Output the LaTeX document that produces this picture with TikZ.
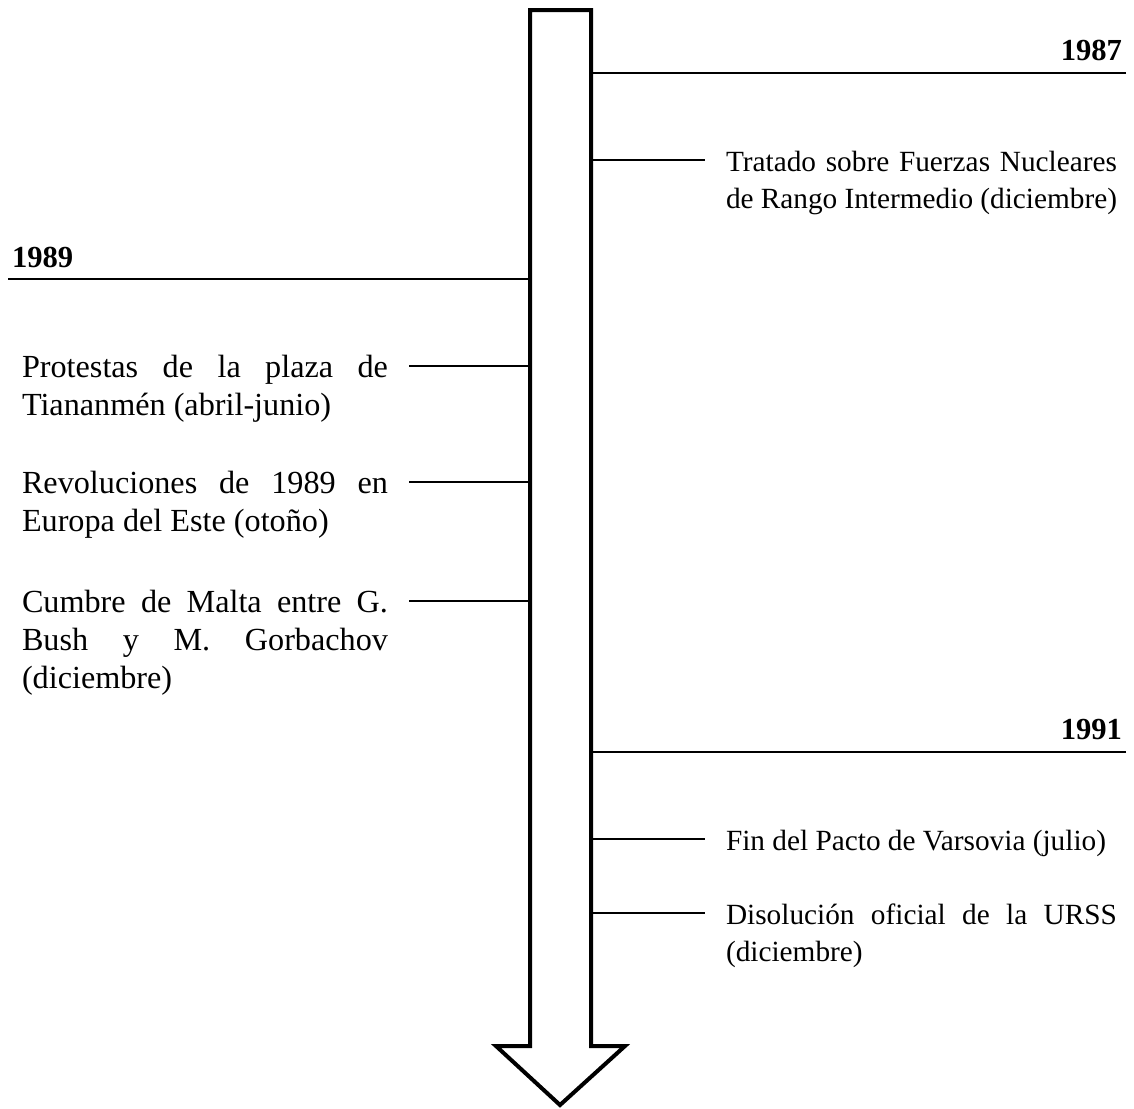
\documentclass[tikz,border=0pt]{standalone}
\usepackage{fontspec}
\setmainfont{Liberation Serif}
\begin{document}
\begin{tikzpicture}[x=0.5pt,y=-0.5pt,
  every node/.style={inner sep=0pt, outer sep=0pt},
  evright/.style={text width=195.5pt, align=justify, anchor=base west,
    font=\fontsize{14.65}{18.5}\selectfont},
  evleft/.style={text width=183pt, align=justify, anchor=base west,
    font=\fontsize{16.1}{19}\selectfont},
  yearlbl/.style={font=\fontsize{15.3}{19}\selectfont\bfseries},
  tick/.style={line width=1pt},
  bigarrow/.style={line width=2pt, line join=miter, fill=white}]
\useasboundingbox (0,0) rectangle (1134,1108);

% the time axis: a tall hollow arrow pointing down
\draw[bigarrow] (530,10) -- (591,10) -- (591,1046) -- (625,1046) -- (560,1105)
  -- (496,1046) -- (530,1046) -- cycle;

\coordinate (L) at (530,0);
\coordinate (R) at (591,0);

% year markers
\node[yearlbl, anchor=base east] (y87) at (1122,60) {1987};
\coordinate (y87e) at (1126,73);
\draw[tick] (y87e) -- (R |- y87e);

\node[yearlbl, anchor=base west] (y89) at (12,267) {1989};
\coordinate (y89s) at (8,279);
\draw[tick] (y89s) -- (L |- y89s);

\node[yearlbl, anchor=base east] (y91) at (1122,739) {1991};
\coordinate (y91e) at (1126,752);
\draw[tick] (y91e) -- (R |- y91e);

% events to the right of the axis
\node[evright] (inf) at (726,171) {Tratado sobre Fuerzas Nucleares\linebreak de Rango Intermedio (diciembre)};
\coordinate (infc) at (705,160);
\draw[tick] (R |- infc) -- (infc);

\node[evright] (pacto) at (726,850) {Fin del Pacto de Varsovia (julio)};
\coordinate (pactoc) at (705,839);
\draw[tick] (R |- pactoc) -- (pactoc);

\node[evright] (urss) at (726,924) {Disolución oficial de la URSS\linebreak (diciembre)};
\coordinate (urssc) at (705,913);
\draw[tick] (R |- urssc) -- (urssc);

% events to the left of the axis
\node[evleft] (tian) at (22,377) {Protestas de la plaza de\linebreak Tiananmén (abril-junio)};
\coordinate (tianc) at (409,366);
\draw[tick] (tianc) -- (L |- tianc);

\node[evleft] (rev) at (22,493) {Revoluciones de 1989 en\linebreak Europa del Este (otoño)};
\coordinate (revc) at (409,482);
\draw[tick] (revc) -- (L |- revc);

\node[evleft] (malta) at (22,612) {Cumbre de Malta entre G.\linebreak Bush y M. Gorbachov\linebreak (diciembre)};
\coordinate (maltac) at (409,601);
\draw[tick] (maltac) -- (L |- maltac);
\end{tikzpicture}
\end{document}
